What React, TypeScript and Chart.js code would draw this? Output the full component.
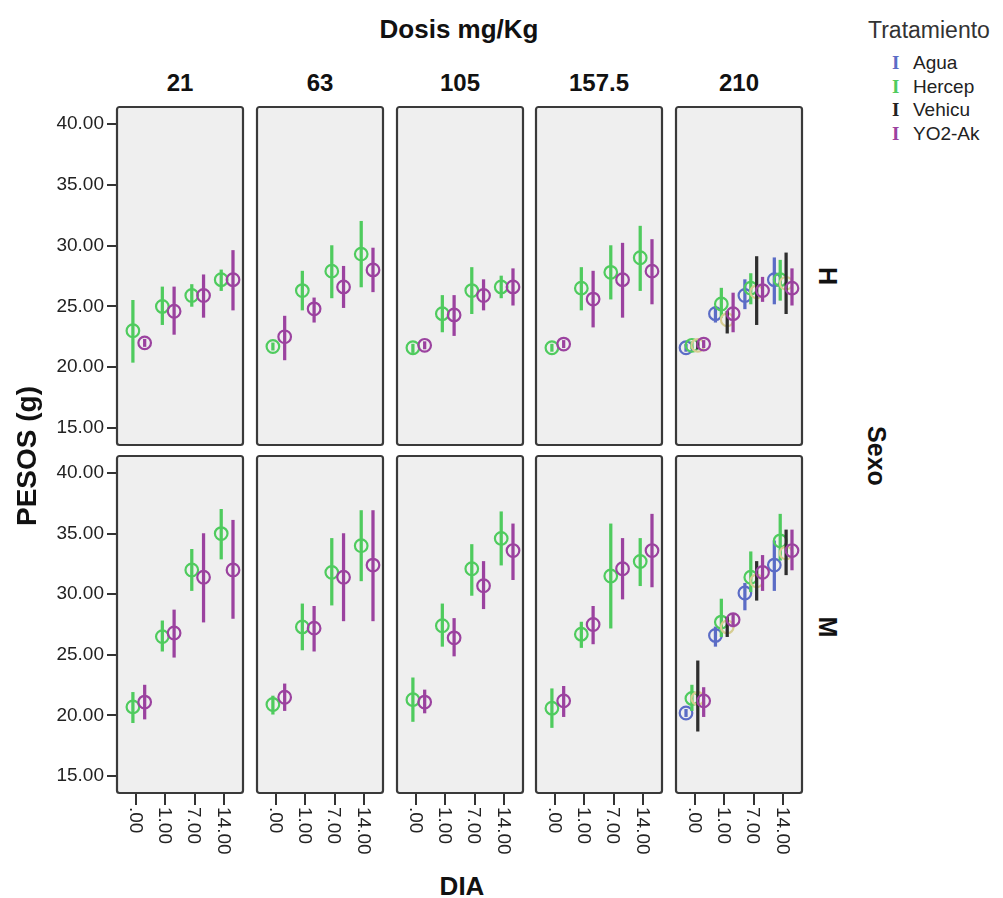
import React, { useEffect, useRef } from 'react';
import { Chart, registerables } from 'chart.js';
Chart.register(...registerables);

// ---------- data ----------
const doses = ['21', '63', '105', '157.5', '210'];
const sexes = ['H', 'M'];
const days = ['.00', '1.00', '7.00', '14.00'];
const yTickValues = [15, 20, 25, 30, 35, 40];
const yTickLabels = ['15.00', '20.00', '25.00', '30.00', '35.00', '40.00'];
const treatments = ['Agua', 'Hercep', 'Vehicu', 'YO2-Ak'];

// rows = dose (21, 63, 105, 157.5, 210); cols = day (.00, 1.00, 7.00, 14.00); null = group absent
const aguaH_mean = [null, null, null, null, [21.6, 24.4, 25.9, 27.2]];
const aguaH_lo = [null, null, null, null, [21.3, 23.7, 24.8, 25.2]];
const aguaH_hi = [null, null, null, null, [21.9, 25.0, 27.2, 29.0]];

const hercepH_mean = [[23.0, 25.0, 25.9, 27.2], [21.7, 26.3, 27.9, 29.3], [21.6, 24.4, 26.3, 26.6], [21.6, 26.5, 27.8, 29.0], [21.8, 25.2, 26.5, 27.2]];
const hercepH_lo = [[20.4, 23.5, 25.0, 26.3], [21.4, 24.7, 25.7, 26.6], [21.2, 22.9, 24.4, 25.7], [21.3, 24.7, 25.6, 26.3], [21.5, 24.1, 25.2, 25.5]];
const hercepH_hi = [[25.5, 26.6, 26.8, 28.0], [22.0, 27.9, 30.0, 32.0], [21.9, 25.9, 28.2, 27.5], [21.9, 28.2, 30.0, 31.6], [22.1, 26.5, 27.7, 28.8]];

const vehicuH_mean = [null, null, null, null, [21.8, 23.9, 26.2, 26.9]];
const vehicuH_lo = [null, null, null, null, [21.5, 22.8, 23.5, 24.4]];
const vehicuH_hi = [null, null, null, null, [22.1, 24.6, 29.1, 29.4]];

const yo2H_mean = [[22.0, 24.6, 25.9, 27.2], [22.5, 24.8, 26.6, 28.0], [21.8, 24.3, 25.9, 26.6], [21.9, 25.6, 27.2, 27.9], [21.9, 24.4, 26.3, 26.5]];
const yo2H_lo = [[21.7, 22.7, 24.1, 24.7], [20.6, 23.7, 24.9, 26.2], [21.5, 22.6, 24.7, 25.1], [21.6, 23.3, 24.1, 25.2], [21.6, 22.9, 25.4, 25.1]];
const yo2H_hi = [[22.3, 26.6, 27.6, 29.6], [24.2, 25.7, 28.3, 29.8], [22.1, 25.9, 27.2, 28.1], [22.2, 27.9, 30.2, 30.5], [22.2, 26.1, 27.4, 28.1]];

const aguaM_mean = [null, null, null, null, [20.2, 26.6, 30.1, 32.4]];
const aguaM_lo = [null, null, null, null, [19.9, 25.7, 28.7, 30.3]];
const aguaM_hi = [null, null, null, null, [20.5, 27.3, 30.9, 34.4]];

const hercepM_mean = [[20.7, 26.5, 32.0, 35.0], [20.9, 27.3, 31.8, 34.0], [21.3, 27.4, 32.1, 34.6], [20.6, 26.7, 31.5, 32.7], [21.4, 27.7, 31.4, 34.4]];
const hercepM_lo = [[19.4, 25.3, 30.3, 32.9], [20.1, 25.4, 29.1, 31.1], [19.5, 25.7, 29.9, 32.4], [19.0, 25.6, 27.2, 30.7], [20.4, 26.5, 30.2, 32.8]];
const hercepM_hi = [[21.9, 27.8, 33.7, 37.0], [21.6, 29.2, 34.6, 36.9], [23.1, 29.2, 34.1, 36.8], [22.2, 27.7, 35.8, 34.6], [22.5, 29.6, 33.5, 36.6]];

const vehicuM_mean = [null, null, null, null, [21.4, 27.3, 31.1, 33.4]];
const vehicuM_lo = [null, null, null, null, [18.7, 26.5, 29.5, 31.6]];
const vehicuM_hi = [null, null, null, null, [24.5, 28.1, 32.7, 35.3]];

const yo2M_mean = [[21.1, 26.8, 31.4, 32.0], [21.5, 27.2, 31.4, 32.4], [21.1, 26.4, 30.7, 33.6], [21.2, 27.5, 32.1, 33.6], [21.2, 27.9, 31.8, 33.6]];
const yo2M_lo = [[19.7, 24.8, 27.7, 28.0], [20.4, 25.3, 27.8, 27.8], [20.2, 24.9, 28.8, 31.2], [19.9, 25.9, 29.6, 30.6], [19.9, 27.3, 30.3, 32.0]];
const yo2M_hi = [[22.5, 28.7, 35.0, 36.1], [22.6, 29.0, 35.0, 36.9], [22.1, 28.0, 32.7, 35.8], [22.4, 29.0, 34.6, 36.6], [22.3, 28.4, 33.2, 35.3]];

type Grid = (number[] | null)[];
const seriesTable: Record<string, Record<string, { mean: Grid; lo: Grid; hi: Grid }>> = {
  H: {
    Agua: { mean: aguaH_mean, lo: aguaH_lo, hi: aguaH_hi },
    Hercep: { mean: hercepH_mean, lo: hercepH_lo, hi: hercepH_hi },
    Vehicu: { mean: vehicuH_mean, lo: vehicuH_lo, hi: vehicuH_hi },
    'YO2-Ak': { mean: yo2H_mean, lo: yo2H_lo, hi: yo2H_hi },
  },
  M: {
    Agua: { mean: aguaM_mean, lo: aguaM_lo, hi: aguaM_hi },
    Hercep: { mean: hercepM_mean, lo: hercepM_lo, hi: hercepM_hi },
    Vehicu: { mean: vehicuM_mean, lo: vehicuM_lo, hi: vehicuM_hi },
    'YO2-Ak': { mean: yo2M_mean, lo: yo2M_lo, hi: yo2M_hi },
  },
};

// ---------- styles ----------
const markerColor: Record<string, string> = { Agua: '#5b6cc6', Hercep: '#4fcb5e', Vehicu: '#d6cd92', 'YO2-Ak': '#9b429f' };
const barColor: Record<string, string> = { Agua: '#5b6cc6', Hercep: '#4fcb5e', Vehicu: '#2e2e2e', 'YO2-Ak': '#9b429f' };
const legendColor: Record<string, string> = { Agua: '#5b6cc6', Hercep: '#4fcb5e', Vehicu: '#222222', 'YO2-Ak': '#9b429f' };
const dodge: Record<string, number> = { Agua: -0.3, Hercep: -0.1, Vehicu: 0.1, 'YO2-Ak': 0.3 };

const FONT = '"Liberation Sans", Arial, Helvetica, sans-serif';
const PANEL_LEFT = [117, 257, 397, 536, 676];
const PANEL_W = 126;
const ROW_TOP = [107, 456];
const PANEL_H = [338, 337];
const Y_AXIS_W = 77;
const X_AXIS_H = 75;
const PAD = 2;

function Panel({ col, row }: { col: number; row: number }) {
  const ref = useRef<HTMLCanvasElement>(null);
  const hasY = col === 0;
  const hasX = row === 1;
  const w = PANEL_W + 2 * PAD + (hasY ? Y_AXIS_W : 0);
  const h = PANEL_H[row] + 2 * PAD + (hasX ? X_AXIS_H : 0);
  const left = PANEL_LEFT[col] - PAD - (hasY ? Y_AXIS_W : 0);
  const top = ROW_TOP[row] - PAD;

  useEffect(() => {
    if (!ref.current) return;
    const sex = sexes[row];
    const datasets: any[] = [];
    const order = [...treatments].reverse();
    for (const t of order) {
      const s = seriesTable[sex][t];
      const mean = s.mean[col];
      const lo = s.lo[col];
      const hi = s.hi[col];
      if (!mean || !lo || !hi) continue;
      datasets.push({
        type: 'bar',
        label: t + ' IC',
        data: days.map((_, i) => ({ x: i + dodge[t], y: [lo[i], hi[i]] })),
        backgroundColor: barColor[t],
        borderWidth: 0,
        barThickness: 2.6,
        grouped: false,
      });
      datasets.push({
        type: 'scatter',
        label: t,
        data: days.map((_, i) => ({ x: i + dodge[t], y: mean[i] })),
        borderColor: markerColor[t],
        backgroundColor: 'rgba(0,0,0,0)',
        pointRadius: 6.3,
        pointHoverRadius: 6.3,
        pointBorderWidth: 2.2,
        pointStyle: 'circle',
      });
    }

    const framePlugin = {
      id: 'panelFrame',
      beforeDraw(chart: any) {
        const { ctx, chartArea: a } = chart;
        ctx.save();
        ctx.fillStyle = '#efefef';
        ctx.fillRect(a.left, a.top, a.right - a.left, a.bottom - a.top);
        ctx.restore();
      },
      afterDatasetsDraw(chart: any) {
        const { ctx, chartArea: a } = chart;
        ctx.save();
        ctx.strokeStyle = '#3a3a3a';
        ctx.lineWidth = 2.2;
        ctx.beginPath();
        if (ctx.roundRect) ctx.roundRect(a.left, a.top, a.right - a.left, a.bottom - a.top, 2.5);
        else ctx.rect(a.left, a.top, a.right - a.left, a.bottom - a.top);
        ctx.stroke();
        ctx.restore();
      },
      afterDraw(chart: any) {
        if (!hasX) return;
        const { ctx, chartArea: a } = chart;
        const xs = chart.scales.x;
        ctx.save();
        ctx.fillStyle = '#222';
        ctx.font = '19px ' + FONT;
        ctx.textAlign = 'left';
        ctx.textBaseline = 'middle';
        days.forEach((lab, i) => {
          const px = xs.getPixelForValue(i);
          ctx.save();
          ctx.translate(px - 1, a.bottom + 14);
          ctx.rotate(Math.PI / 2);
          ctx.fillText(lab, 0, 0);
          ctx.restore();
        });
        ctx.restore();
      },
    };

    const chart = new Chart(ref.current, {
      type: 'scatter',
      data: { datasets },
      options: {
        animation: false,
        responsive: false,
        devicePixelRatio: 1,
        events: [],
        layout: { autoPadding: false, padding: { left: PAD, right: PAD, top: PAD, bottom: PAD } },
        plugins: { legend: { display: false }, tooltip: { enabled: false } },
        scales: {
          x: {
            type: 'linear',
            min: -0.64,
            max: 3.64,
            offset: false,
            display: hasX,
            afterBuildTicks: (s: any) => { s.ticks = days.map((_, i) => ({ value: i })); },
            afterFit: (s: any) => {
              s.paddingLeft = 0; s.paddingRight = 0;
              if (hasX) s.height = X_AXIS_H; else s.height = 0;
            },
            ticks: { display: false },
            grid: { offset: false, drawOnChartArea: false, drawTicks: true, tickLength: 12, color: '#333', lineWidth: 2 },
            border: { display: false },
          },
          y: {
            type: 'linear',
            min: 13.6,
            max: 41.4,
            display: hasY,
            afterBuildTicks: (s: any) => { s.ticks = yTickValues.map((v) => ({ value: v })); },
            afterFit: (s: any) => {
              s.paddingTop = 0; s.paddingBottom = 0;
              if (hasY) s.width = Y_AXIS_W; else s.width = 0;
            },
            ticks: {
              callback: (_v: any, i: number) => yTickLabels[i],
              font: { size: 19, family: FONT },
              color: '#222',
              padding: 3,
            },
            grid: { drawOnChartArea: false, drawTicks: true, tickLength: 10, color: '#333', lineWidth: 2 },
            border: { display: false },
          },
        },
      },
      plugins: [framePlugin],
    } as any);
    return () => chart.destroy();
  }, [col, row]);

  return (
    <canvas
      ref={ref}
      width={w}
      height={h}
      style={{ position: 'absolute', left, top, width: w, height: h }}
    />
  );
}

function Label({ text, cx, cy, size, bold, rotate, color }: { text: string; cx: number; cy: number; size: number; bold?: boolean; rotate?: number; color?: string }) {
  return (
    <div
      style={{
        position: 'absolute',
        left: cx,
        top: cy,
        transform: `translate(-50%, -50%) rotate(${rotate || 0}deg)`,
        whiteSpace: 'nowrap',
        fontFamily: FONT,
        fontSize: size,
        fontWeight: bold ? 700 : 400,
        lineHeight: 1,
        color: color || '#111',
      }}
    >
      {text}
    </div>
  );
}

export default function App() {
  const legendY = [63, 87, 110, 134];
  return (
    <div style={{ position: 'absolute', left: 0, top: 0, width: 1003, height: 898, background: '#fff', overflow: 'hidden' }}>
      <Label text="Dosis mg/Kg" cx={459} cy={29} size={26} bold />
      {doses.map((d, c) => (
        <Label key={d} text={d} cx={PANEL_LEFT[c] + PANEL_W / 2} cy={83} size={24} bold />
      ))}
      {sexes.map((s, r) =>
        doses.map((d, c) => <Panel key={s + d} col={c} row={r} />)
      )}
      <Label text="PESOS (g)" cx={27} cy={456} size={28} bold rotate={-90} />
      <Label text="DIA" cx={462} cy={886} size={26} bold />
      <Label text="Sexo" cx={876} cy={456} size={25} bold rotate={90} />
      {sexes.map((s, r) => (
        <Label key={s} text={s} cx={827} cy={r === 0 ? 276 : 627} size={25} bold rotate={90} />
      ))}
      <div style={{ position: 'absolute', left: 868, top: 17, fontFamily: FONT, fontSize: 23, lineHeight: '26px', color: '#333', whiteSpace: 'nowrap' }}>Tratamiento</div>
      {treatments.map((t, i) => (
        <div key={t} style={{ position: 'absolute', left: 892, top: legendY[i] - 12, height: 24, display: 'flex', alignItems: 'center', whiteSpace: 'nowrap' }}>
          <span style={{ fontFamily: '"Liberation Serif", "DejaVu Serif", serif', fontSize: 19, fontWeight: 700, color: legendColor[t], width: 21, display: 'inline-block' }}>I</span>
          <span style={{ fontFamily: FONT, fontSize: 19, color: '#222' }}>{t}</span>
        </div>
      ))}
    </div>
  );
}
